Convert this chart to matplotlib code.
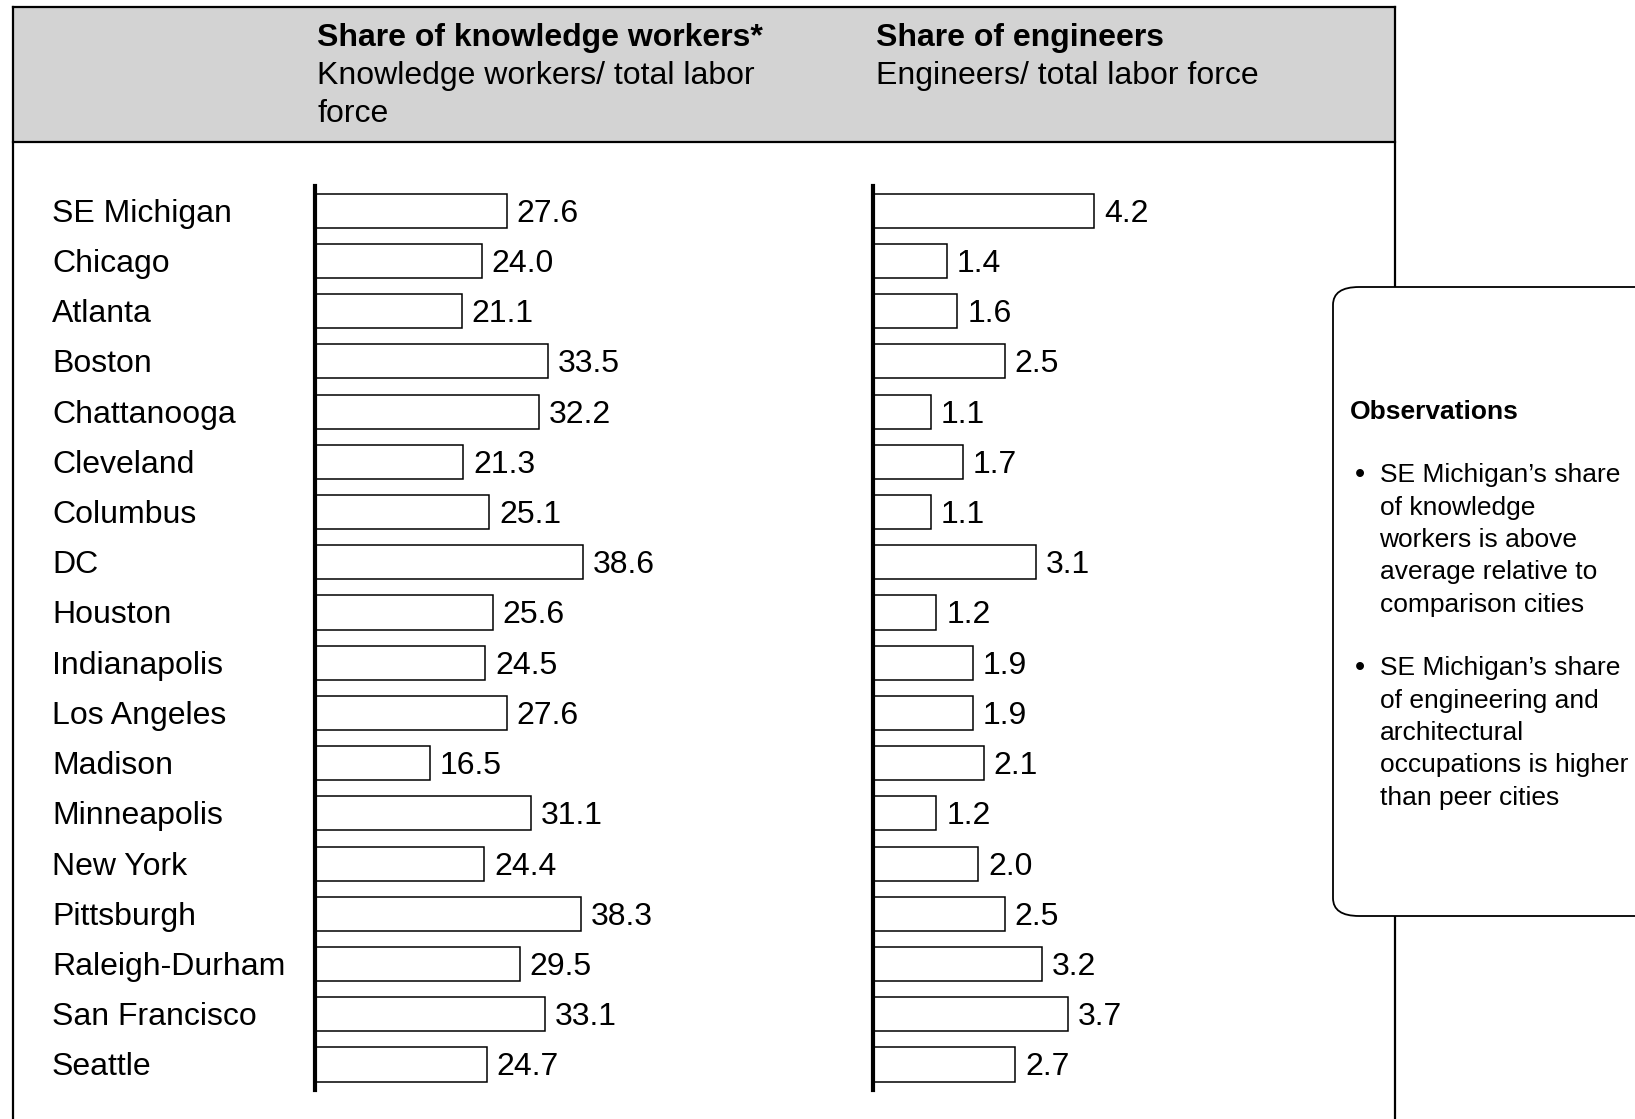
import matplotlib
matplotlib.use("Agg")
import matplotlib.pyplot as plt
from matplotlib.patches import Rectangle, FancyBboxPatch
from matplotlib.lines import Line2D
import matplotlib.transforms as mtransforms

plt.rcParams['font.family'] = ['Liberation Sans', 'DejaVu Sans']

cities = ["SE Michigan", "Chicago", "Atlanta", "Boston", "Chattanooga", "Cleveland",
          "Columbus", "DC", "Houston", "Indianapolis", "Los Angeles", "Madison",
          "Minneapolis", "New York", "Pittsburgh", "Raleigh-Durham", "San Francisco",
          "Seattle"]
knowledge = [27.6, 24.0, 21.1, 33.5, 32.2, 21.3, 25.1, 38.6, 25.6, 24.5, 27.6, 16.5,
             31.1, 24.4, 38.3, 29.5, 33.1, 24.7]
engineers = [4.2, 1.4, 1.6, 2.5, 1.1, 1.7, 1.1, 3.1, 1.2, 1.9, 1.9, 2.1, 1.2, 2.0,
             2.5, 3.2, 3.7, 2.7]

title_left = "Share of knowledge workers*"
sub_left = ["Knowledge workers/ total labor", "force"]
title_right = "Share of engineers"
sub_right = ["Engineers/ total labor force"]
obs_title = "Observations"
bullets = [["SE Michigan\u2019s share", "of knowledge", "workers is above",
            "average relative to", "comparison cities"],
           ["SE Michigan\u2019s share", "of engineering and", "architectural",
            "occupations is higher", "than peer cities"]]

W, H = 1635, 1119
fig = plt.figure(figsize=(W / 100, H / 100), dpi=100)


def fx(x):
    return x / W


def fy(y):
    return 1 - y / H


FS = 23
DY = 3  # nudge text down a bit

# frame and header
fig.patches.append(Rectangle((fx(12.5), fy(142)), fx(1395) - fx(12.5), fy(7) - fy(142),
                             transform=fig.transFigure, facecolor="#d3d3d3",
                             edgecolor="none", zorder=0))
for xs, ys in [((12.5, 1395), (7, 7)), ((12.5, 1395), (142, 142)),
               ((12.5, 12.5), (7, 1130)), ((1395, 1395), (7, 1130))]:
    fig.lines.append(Line2D([fx(xs[0]), fx(xs[1])], [fy(ys[0]), fy(ys[1])],
                            transform=fig.transFigure, color="black", lw=1.6))

fig.text(fx(317), fy(35 + DY), title_left, fontsize=FS, fontweight="bold", va="center")
for i, s in enumerate(sub_left):
    fig.text(fx(317), fy(73 + DY + 37.5 * i), s, fontsize=FS, va="center")
fig.text(fx(876), fy(35 + DY), title_right, fontsize=FS, fontweight="bold", va="center")
for i, s in enumerate(sub_right):
    fig.text(fx(876), fy(73 + DY + 37.5 * i), s, fontsize=FS, va="center")

# bar panels
bottom = fy(1089.6)
height = fy(185.6) - bottom
panels = [(knowledge, 315, 45, 6.944), (engineers, 873, 6, 52.66)]
axes = []
for vals, x0, xmax, ppu in panels:
    ax = fig.add_axes([fx(x0), bottom, fx(xmax * ppu), height])
    ax.set_xlim(0, xmax)
    ax.set_ylim(len(cities) - 0.5, -0.5)
    ax.barh(range(len(vals)), vals, height=0.68, color="white",
            edgecolor="black", linewidth=1.1)
    for i, v in enumerate(vals):
        ax.annotate(f"{v:.1f}", (v, i), xytext=(10, -DY), textcoords="offset pixels",
                    va="center", ha="left", fontsize=FS)
    for s in ["top", "right", "bottom"]:
        ax.spines[s].set_visible(False)
    ax.spines["left"].set_linewidth(3)
    ax.set_xticks([])
    ax.set_yticks([])
    ax.patch.set_alpha(0)
    axes.append(ax)

trans = mtransforms.blended_transform_factory(fig.transFigure, axes[0].transData)
for i, c in enumerate(cities):
    axes[0].annotate(c, (fx(52), i), xycoords=trans, xytext=(0, -DY),
                     textcoords="offset pixels", fontsize=FS, va="center", ha="left",
                     annotation_clip=False)

# observations box
box = FancyBboxPatch((fx(1333), fy(916)), fx(1750) - fx(1333), fy(287) - fy(916),
                     boxstyle="round,pad=0,rounding_size=0.016",
                     transform=fig.transFigure, facecolor="white",
                     edgecolor="black", lw=1.3, zorder=3)
fig.patches.append(box)
fig.text(fx(1350), fy(410 + 2), obs_title, fontsize=19, fontweight="bold", va="center",
         zorder=4)
starts = [475.4, 668.3]
for lines, y0 in zip(bullets, starts):
    fig.text(fx(1355), fy(y0), "\u2022", fontsize=21, va="center", zorder=4)
    for j, s in enumerate(lines):
        fig.text(fx(1379.5), fy(y0 + 32.3 * j), s, fontsize=19, va="center", zorder=4)

fig.savefig("out.png", dpi=100)
